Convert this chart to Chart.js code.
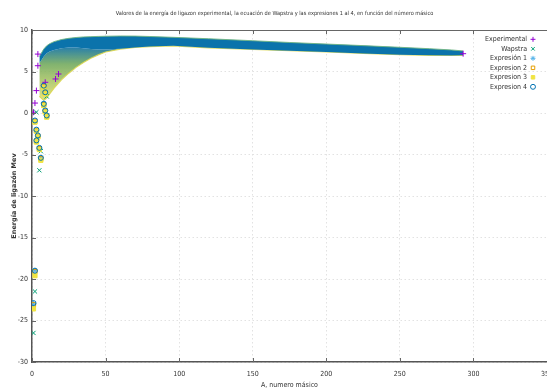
<!DOCTYPE html>
<html>
<head>
<meta charset="utf-8">
<script src="https://cdn.jsdelivr.net/npm/chart.js@4/dist/chart.umd.min.js"></script>
<style>
  html, body { margin: 0; padding: 0; background: #fff; overflow: hidden; }
  #wrap { width: 552px; height: 389px; }
</style>
</head>
<body>
<div id="wrap"><canvas id="bindingChart" width="552" height="389"></canvas></div>
<script>
// light nuclei read one by one, mass number A and energy (MeV)
const massExp = [1, 2, 3, 4, 4, 8, 9, 16, 18, 293];
const energyExp = [0.1, 1.2, 2.7, 7.1, 5.7, 3.3, 3.7, 4.1, 4.7, 7.15];

const massWap = [1, 2, 3, 5, 6, 8, 10];
const energyWap = [-26.5, -21.5, 0.1, -6.9, -4.6, 1.0, 2.0];

const massE1 = [1, 2, 2, 3, 4, 5, 6, 8, 9, 10];
const energyE1 = [-23.0, -19.0, -1.0, -2.1, -2.8, -4.3, -5.4, 1.2, 0.3, -0.3];

const massE2 = [1, 2, 2, 3, 3, 4, 5, 6, 8, 9, 8, 9, 10];
const energyE2 = [-23.1, -19.1, -1.0, -2.1, -3.4, -2.8, -4.3, -5.5, 3.2, 2.4, 1.0, 0.2, -0.4];

const massE3 = [1, 2, 2, 3, 3, 4, 5, 6, 8, 9, 8, 9, 10];
const energyE3 = [-23.6, -19.6, -1.1, -2.2, -3.5, -2.9, -4.4, -5.7, 3.1, 2.3, 0.9, 0.1, -0.5];

const massE4 = [1, 2, 2, 3, 3, 4, 5, 6, 8, 9, 8, 9, 10];
const energyE4 = [-22.9, -19.0, -0.9, -2.0, -3.3, -2.7, -4.2, -5.4, 3.3, 2.5, 1.1, 0.3, -0.3];

// the dense band of heavier nuclei: upper edge, lower edge of the solid blue core,
// and lower edge of the looser fan of light nuclei
const bandMass = [5, 8, 10, 12, 15, 20, 25, 30, 35, 40, 45, 50, 60, 70, 80, 96, 120, 150, 175, 200, 225, 250, 270, 285, 293];
const bandTop = [6.8, 7.7, 8.1, 8.35, 8.6, 8.85, 9.0, 9.1, 9.17, 9.2, 9.23, 9.25, 9.28, 9.27, 9.22, 9.12, 8.95, 8.71, 8.5, 8.31, 8.12, 7.92, 7.75, 7.6, 7.48];
const coreBottom = [6.0, 6.8, 7.2, 7.4, 7.6, 7.8, 7.9, 7.9, 7.8, 7.7, 7.65, 7.65, 7.75, 7.9, 8.0, 8.1, 7.85, 7.65, 7.5, 7.35, 7.18, 7.02, 6.95, 6.93, 6.95];
const bandBottom = [2.0, 1.5, 1.8, 2.3, 3.0, 4.0, 4.8, 5.5, 6.1, 6.6, 7.0, 7.35, 7.7, 7.9, 8.0, 8.1, 7.85, 7.65, 7.5, 7.35, 7.18, 7.02, 6.95, 6.93, 6.95];

const seriesNames = ['Experimental', 'Wapstra', 'Expresión 1', 'Expresion 2', 'Expresion 3', 'Expresion 4'];
const xTicks = [0, 50, 100, 150, 200, 250, 300, 350];
const yTicks = [-30, -25, -20, -15, -10, -5, 0, 5, 10];

const narrow = '"Liberation Sans Narrow", "DejaVu Sans Condensed", "Noto Sans", sans-serif';

const pts = (xs, ys) => xs.map((x, i) => ({ x: x, y: ys[i] }));

// fan of light nuclei: blue near the core, fading to yellow-green speckle lower down
function fanFill(context) {
  const chart = context.chart;
  if (!chart.chartArea) return 'rgba(160,195,110,0.85)';
  const y = chart.scales.y;
  const g = chart.ctx.createLinearGradient(0, y.getPixelForValue(8), 0, y.getPixelForValue(2));
  g.addColorStop(0, 'rgba(25,118,168,0.95)');
  g.addColorStop(0.35, 'rgba(115,170,95,0.9)');
  g.addColorStop(1, 'rgba(205,212,85,0.75)');
  return g;
}

// gnuplot style frame: top border and inward ticks
const frame = {
  id: 'frame',
  afterDraw(chart) {
    const { ctx, chartArea: a, scales: { x, y } } = chart;
    ctx.save();
    ctx.strokeStyle = '#666';
    ctx.lineWidth = 1.2;
    ctx.beginPath();
    ctx.moveTo(a.left, a.top + 0.5);
    ctx.lineTo(a.right, a.top + 0.5);
    ctx.stroke();
    ctx.lineWidth = 1;
    ctx.beginPath();
    x.ticks.forEach(t => {
      const px = Math.round(x.getPixelForValue(t.value)) + 0.5;
      ctx.moveTo(px, a.bottom); ctx.lineTo(px, a.bottom - 4);
      ctx.moveTo(px, a.top); ctx.lineTo(px, a.top + 4);
    });
    y.ticks.forEach(t => {
      const py = Math.round(y.getPixelForValue(t.value)) + 0.5;
      ctx.moveTo(a.left, py); ctx.lineTo(a.left + 4, py);
    });
    ctx.stroke();
    ctx.restore();
  }
};

// put the legend box in the top right corner of the plot
const legendNudge = {
  id: 'legendNudge',
  afterLayout(chart) {
    const l = chart.legend;
    const a = chart.chartArea;
    const w = l.width, h = l.height;
    l.right = a.right - 9;
    l.left = l.right - w;
    l.top = a.top + 3.3;
    l.bottom = l.top + h;
  }
};

new Chart(document.getElementById('bindingChart'), {
  type: 'scatter',
  data: {
    datasets: [
      { label: seriesNames[0], data: pts(massExp, energyExp), pointStyle: 'cross', pointRadius: 3, borderColor: '#9400d3', backgroundColor: '#9400d3', borderWidth: 1, order: 6 },
      { label: seriesNames[1], data: pts(massWap, energyWap), pointStyle: 'crossRot', pointRadius: 3, borderColor: '#009e73', backgroundColor: '#009e73', borderWidth: 1, order: 5 },
      { label: seriesNames[2], data: pts(massE1, energyE1), pointStyle: 'star', pointRadius: 3, borderColor: '#56b4e9', backgroundColor: '#56b4e9', borderWidth: 1, order: 4 },
      { label: seriesNames[3], data: pts(massE2, energyE2), pointStyle: 'rect', pointRadius: 3, borderColor: '#e69f00', backgroundColor: 'rgba(0,0,0,0)', borderWidth: 1, order: 3 },
      { label: seriesNames[4], data: pts(massE3, energyE3), pointStyle: 'rect', pointRadius: 3, borderColor: '#f0e442', backgroundColor: '#f0e442', borderWidth: 1, order: 2 },
      { label: seriesNames[5], data: pts(massE4, energyE4), pointStyle: 'circle', pointRadius: 2.5, borderColor: '#0072b2', backgroundColor: 'rgba(0,0,0,0)', borderWidth: 1, order: 1 },
      { label: 'band top', data: pts(bandMass, bandTop), showLine: true, pointRadius: 0, borderColor: 'rgba(110,180,130,0.9)', borderWidth: 1, fill: false, order: 10 },
      { label: 'band core', data: pts(bandMass, coreBottom), showLine: true, pointRadius: 0, borderColor: 'rgba(0,0,0,0)', borderWidth: 0, fill: '-1', backgroundColor: '#0b73ab', order: 11 },
      { label: 'band fan', data: pts(bandMass, bandBottom), showLine: true, pointRadius: 0, borderColor: 'rgba(220,215,80,0.9)', borderWidth: 1.2, fill: '-1', backgroundColor: fanFill, order: 12 }
    ]
  },
  options: {
    responsive: false,
    animation: false,
    events: [],
    layout: { padding: { left: 0, right: 3, top: 0, bottom: 0 } },
    plugins: {
      title: {
        display: true,
        text: 'Valores de la energía de ligazon experimental, la ecuación de Wapstra y las expresiones 1 al 4, en función del número másico',
        color: '#333',
        font: { family: narrow, size: 5.6, weight: 'normal', lineHeight: 1.2 },
        padding: { top: 10, bottom: 13.3 }
      },
      legend: {
        position: 'chartArea',
        align: 'start',
        rtl: true,
        textDirection: 'ltr',
        labels: {
          usePointStyle: true,
          boxWidth: 5,
          boxHeight: 3.5,
          padding: 2.5,
          color: '#333',
          font: { family: narrow, size: 7 },
          filter: item => item.datasetIndex < seriesNames.length,
          sort: (a, b) => a.datasetIndex - b.datasetIndex
        }
      },
      tooltip: { enabled: false }
    },
    scales: {
      x: {
        type: 'linear',
        min: xTicks[0],
        max: xTicks[xTicks.length - 1],
        afterFit(s) { s.height = 27; s.paddingLeft = 0; s.paddingRight = 0; },
        afterBuildTicks(s) { s.ticks = xTicks.map(v => ({ value: v })); },
        ticks: { padding: 8, color: '#333', font: { family: narrow, size: 7 } },
        grid: { color: '#e2e2e2', drawTicks: false },
        border: { color: '#555', width: 1.5, dash: [1.5, 2.5] },
        title: { display: true, text: 'A, numero másico', color: '#333', font: { family: narrow, size: 7, lineHeight: 1.2 }, padding: { top: 0, bottom: 0 } }
      },
      y: {
        type: 'linear',
        min: yTicks[0],
        max: yTicks[yTicks.length - 1],
        afterFit(s) { s.width = 32; s.paddingTop = 0; s.paddingBottom = 0; },
        afterBuildTicks(s) { s.ticks = yTicks.map(v => ({ value: v })); },
        ticks: { padding: 4, color: '#333', font: { family: narrow, size: 7 } },
        grid: { color: '#e2e2e2', drawTicks: false },
        border: { color: '#555', width: 1.5, dash: [1.5, 2.5] },
        title: { display: true, text: 'Energía de ligazón Mev', color: '#333', font: { family: '"DejaVu Sans", sans-serif', size: 6.5, weight: 'bold', lineHeight: 1.2 }, padding: { top: 10, bottom: 0 } }
      }
    }
  },
  plugins: [frame, legendNudge]
});
</script>
</body>
</html>
